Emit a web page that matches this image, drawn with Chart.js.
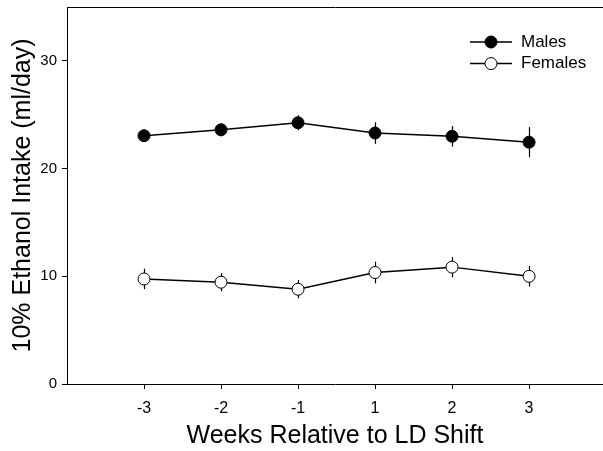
<!DOCTYPE html>
<html>
<head>
<meta charset="utf-8">
<script src="https://cdn.jsdelivr.net/npm/chart.js@4.4.1/dist/chart.umd.min.js"></script>
<style>
  html, body { margin: 0; padding: 0; background: #fff; }
  #wrap { width: 603px; height: 451px; }
</style>
</head>
<body>
<div id="wrap"><canvas id="chartCanvas"></canvas></div>
<script>
const weeks = ['-3', '-2', '-1', '1', '2', '3'];
const males = [23.05, 23.6, 24.25, 23.3, 23.0, 22.45];
const malesErr = [0.35, 0.6, 0.7, 1.0, 0.95, 1.4];
const females = [9.75, 9.45, 8.8, 10.35, 10.85, 10.0];
const femalesErr = [0.95, 0.85, 0.85, 1.0, 0.95, 0.95];
const yTicks = [0, 10, 20, 30];

const FONT = '"Liberation Sans", Arial, sans-serif';

// vertical SE bars, drawn under the markers
const errorBars = {
  id: 'errorBars',
  beforeDatasetsDraw(chart) {
    const { ctx, scales: { x, y } } = chart;
    ctx.save();
    ctx.strokeStyle = '#000';
    ctx.lineWidth = 1.2;
    chart.data.datasets.forEach(ds => {
      ds.data.forEach((p, k) => {
        const e = ds.err[k];
        const px = Math.round(x.getPixelForValue(p.x)) + 0.5;
        ctx.beginPath();
        ctx.moveTo(px, y.getPixelForValue(p.y - e));
        ctx.lineTo(px, y.getPixelForValue(p.y + e));
        ctx.stroke();
      });
    });
    ctx.restore();
  }
};

// legend inside the plot, line + marker
const innerLegend = {
  id: 'innerLegend',
  afterDraw(chart) {
    const { ctx, chartArea } = chart;
    const x0 = chartArea.right - 133;
    ctx.save();
    chart.data.datasets.forEach((ds, k) => {
      const yy = chartArea.top + 35 + k * 21.6;
      ctx.strokeStyle = '#000';
      ctx.lineWidth = 1.5;
      ctx.beginPath();
      ctx.moveTo(x0, yy);
      ctx.lineTo(x0 + 42, yy);
      ctx.stroke();
      ctx.beginPath();
      ctx.arc(x0 + 21, yy, 6, 0, Math.PI * 2);
      ctx.fillStyle = ds.pointBackgroundColor;
      ctx.fill();
      ctx.lineWidth = 1;
      ctx.stroke();
      ctx.fillStyle = '#000';
      ctx.font = '17px ' + FONT;
      ctx.textBaseline = 'middle';
      ctx.fillText(ds.label, x0 + 51, yy);
    });
    ctx.restore();
  }
};

const toPts = arr => arr.map((v, k) => ({ x: k, y: v }));

// drop the label-overflow padding chart.js adds around scales
const noPad = s => { s.paddingLeft = 0; s.paddingRight = 0; s.paddingTop = 0; s.paddingBottom = 0; };

new Chart(document.getElementById('chartCanvas'), {
  type: 'line',
  data: {
    datasets: [
      {
        label: 'Males',
        data: toPts(males),
        err: malesErr,
        borderColor: '#000',
        borderWidth: 1.5,
        pointRadius: 6,
        pointBorderWidth: 1,
        pointBorderColor: '#000',
        pointBackgroundColor: '#000',
        tension: 0
      },
      {
        label: 'Females',
        data: toPts(females),
        err: femalesErr,
        borderColor: '#000',
        borderWidth: 1.5,
        pointRadius: 6,
        pointBorderWidth: 1,
        pointBorderColor: '#000',
        pointBackgroundColor: '#fff',
        tension: 0
      }
    ]
  },
  options: {
    responsive: true,
    maintainAspectRatio: false,
    animation: false,
    layout: { padding: 0, autoPadding: false },
    scales: {
      x: {
        type: 'linear',
        min: -1,
        max: 5.96,
        afterBuildTicks: s => { s.ticks = weeks.map((_, k) => ({ value: k })); },
        afterFit: s => { s.height = 67; noPad(s); },
        grid: { drawOnChartArea: false, tickLength: 5, color: '#000' },
        border: { color: '#000', width: 1 },
        ticks: {
          callback: v => weeks[v],
          color: '#000',
          padding: 10,
          maxRotation: 0,
          font: { family: FONT, size: 16 }
        },
        title: {
          display: true,
          text: 'Weeks Relative to LD Shift',
          color: '#000',
          padding: { top: 0, bottom: 0 },
          font: { family: FONT, size: 25 }
        }
      },
      xTop: {
        type: 'linear',
        position: 'top',
        min: -1,
        max: 5.96,
        afterFit: s => { s.height = 7; noPad(s); },
        grid: { display: false },
        ticks: { display: false },
        border: { color: '#000', width: 1 }
      },
      y: {
        min: 0,
        max: 35,
        afterBuildTicks: s => { s.ticks = yTicks.map(v => ({ value: v })); },
        afterFit: s => { s.width = 67; noPad(s); },
        grid: { drawOnChartArea: false, tickLength: 5, color: '#000' },
        border: { color: '#000', width: 1 },
        ticks: {
          color: '#000',
          padding: 5,
          font: { family: FONT, size: 15 }
        },
        title: {
          display: true,
          text: '10% Ethanol Intake (ml/day)',
          color: '#000',
          padding: { top: 8, bottom: 0 },
          font: { family: FONT, size: 25 }
        }
      }
    },
    plugins: {
      legend: { display: false },
      tooltip: { enabled: false }
    }
  },
  plugins: [errorBars, innerLegend]
});
</script>
</body>
</html>
